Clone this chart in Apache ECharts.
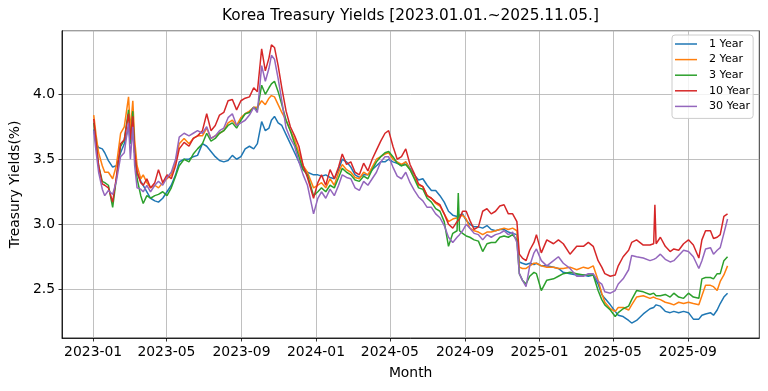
<!DOCTYPE html>
<html>
<head>
<meta charset="utf-8">
<script src="https://cdn.jsdelivr.net/npm/echarts@6/dist/echarts.min.js"></script>
<style>
html,body{margin:0;padding:0;background:#fff;}
#chart{width:768px;height:391px;}
</style>
</head>
<body>
<div id="chart"></div>
<script>
// ---- data ----
const seriesNames = ['1 Year', '2 Year', '3 Year', '10 Year', '30 Year'];
const xTickLabels = ['2023-01', '2023-05', '2023-09', '2024-01', '2024-05', '2024-09', '2025-01', '2025-05', '2025-09'];
const yTickLabels = ['2.5', '3.0', '3.5', '4.0'];

const dates = [
'2023-01-02','2023-01-06','2023-01-10','2023-01-16','2023-01-20','2023-01-26','2023-02-02','2023-02-08','2023-02-15','2023-02-21',
'2023-02-28','2023-03-03','2023-03-07','2023-03-10','2023-03-14','2023-03-20','2023-03-24','2023-03-30','2023-04-05','2023-04-12',
'2023-04-18','2023-04-25','2023-05-02','2023-05-09','2023-05-16','2023-05-22','2023-05-30','2023-06-07','2023-06-14','2023-06-21',
'2023-06-29','2023-07-06','2023-07-13','2023-07-20','2023-07-27','2023-08-03','2023-08-10','2023-08-17','2023-08-24','2023-08-31',
'2023-09-07','2023-09-14','2023-09-21','2023-09-27','2023-10-04','2023-10-10','2023-10-16','2023-10-20','2023-10-25','2023-10-31',
'2023-11-06','2023-11-13','2023-11-20','2023-11-27','2023-12-04','2023-12-11','2023-12-18','2023-12-28',
'2024-01-04','2024-01-10','2024-01-17','2024-01-24','2024-01-31','2024-02-07','2024-02-13','2024-02-20','2024-02-27','2024-03-05',
'2024-03-12','2024-03-19','2024-03-26','2024-04-02','2024-04-09','2024-04-16','2024-04-23','2024-04-29','2024-05-06','2024-05-13',
'2024-05-20','2024-05-27','2024-06-03','2024-06-10','2024-06-17','2024-06-24','2024-07-01','2024-07-08','2024-07-15','2024-07-22',
'2024-07-29','2024-08-05','2024-08-12','2024-08-19','2024-08-21','2024-08-23','2024-08-28','2024-09-03','2024-09-09','2024-09-16',
'2024-09-23','2024-09-30','2024-10-07','2024-10-14','2024-10-21','2024-10-28','2024-11-04','2024-11-11','2024-11-18','2024-11-25',
'2024-11-29','2024-12-04','2024-12-10','2024-12-16','2024-12-23','2024-12-27',
'2025-01-04','2025-01-13','2025-01-24','2025-02-01','2025-02-09','2025-02-20','2025-03-03','2025-03-14','2025-03-22','2025-03-30',
'2025-04-07','2025-04-13','2025-04-18','2025-04-27','2025-05-05','2025-05-10','2025-05-18','2025-05-27','2025-06-01','2025-06-09',
'2025-06-20','2025-07-01','2025-07-07','2025-07-09','2025-07-11','2025-07-18','2025-07-26','2025-08-03','2025-08-09','2025-08-17',
'2025-08-25','2025-09-02','2025-09-10','2025-09-19','2025-09-24','2025-09-30','2025-10-08','2025-10-13','2025-10-19','2025-10-24',
'2025-10-30','2025-11-05'
];

const y1 = [
3.73,3.62,3.59,3.58,3.55,3.49,3.44,3.45,3.55,3.62,
3.75,3.62,3.70,3.55,3.40,3.33,3.30,3.25,3.20,3.18,
3.17,3.20,3.25,3.30,3.38,3.48,3.50,3.50,3.52,3.53,
3.62,3.60,3.56,3.52,3.49,3.48,3.49,3.53,3.50,3.52,
3.58,3.60,3.58,3.62,3.79,3.72,3.74,3.80,3.83,3.78,
3.76,3.69,3.62,3.55,3.48,3.42,3.40,3.38,
3.38,3.37,3.38,3.36,3.35,3.42,3.50,3.48,3.44,3.38,
3.36,3.38,3.38,3.42,3.45,3.48,3.48,3.50,3.48,3.47,
3.45,3.48,3.43,3.38,3.34,3.35,3.30,3.26,3.26,3.22,
3.17,3.10,3.07,3.06,3.07,3.07,3.08,3.03,3.00,2.98,
2.98,2.97,2.99,2.96,2.95,2.96,2.96,2.94,2.93,2.92,
2.71,2.70,2.69,2.70,2.69,2.70,
2.68,2.68,2.67,2.66,2.63,2.62,2.61,2.61,2.60,2.61,
2.54,2.46,2.43,2.38,2.33,2.30,2.29,2.26,2.24,2.26,
2.31,2.35,2.36,2.37,2.38,2.37,2.33,2.32,2.33,2.32,
2.33,2.32,2.27,2.27,2.30,2.31,2.32,2.30,2.34,2.39,
2.44,2.47
];

const y2 = [
3.84,3.68,3.55,3.45,3.40,3.40,3.35,3.45,3.70,3.75,
3.98,3.72,3.95,3.65,3.45,3.35,3.38,3.32,3.28,3.30,
3.28,3.32,3.35,3.38,3.48,3.62,3.66,3.62,3.66,3.68,
3.68,3.74,3.66,3.68,3.70,3.72,3.78,3.80,3.76,3.82,
3.85,3.87,3.90,3.90,3.95,3.92,3.97,3.99,3.98,3.92,
3.86,3.80,3.72,3.65,3.55,3.45,3.40,3.28,
3.30,3.32,3.28,3.35,3.30,3.40,3.46,3.42,3.40,3.36,
3.35,3.40,3.38,3.44,3.50,3.52,3.54,3.55,3.50,3.48,
3.46,3.48,3.42,3.36,3.30,3.29,3.22,3.20,3.16,3.14,
3.08,3.02,3.04,3.05,3.06,3.06,3.07,3.04,2.97,2.95,
2.94,2.92,2.94,2.94,2.95,2.96,2.97,2.96,2.97,2.95,
2.67,2.66,2.66,2.68,2.70,2.70,
2.68,2.67,2.67,2.66,2.66,2.67,2.65,2.67,2.66,2.68,
2.57,2.47,2.40,2.35,2.33,2.36,2.36,2.34,2.38,2.44,
2.45,2.43,2.44,2.44,2.43,2.42,2.40,2.39,2.38,2.40,
2.39,2.40,2.39,2.38,2.45,2.53,2.53,2.52,2.49,2.56,
2.61,2.68
];

const y3 = [
3.78,3.62,3.45,3.33,3.32,3.30,3.13,3.35,3.60,3.65,
3.88,3.62,3.87,3.55,3.35,3.22,3.16,3.22,3.20,3.22,
3.23,3.25,3.22,3.28,3.37,3.45,3.50,3.48,3.54,3.58,
3.62,3.70,3.64,3.66,3.70,3.72,3.76,3.78,3.74,3.80,
3.85,3.86,3.90,3.88,4.07,4.00,4.05,4.08,4.10,4.02,
3.92,3.80,3.72,3.62,3.52,3.42,3.38,3.22,
3.25,3.28,3.25,3.30,3.28,3.36,3.43,3.40,3.38,3.34,
3.33,3.37,3.35,3.42,3.48,3.52,3.55,3.56,3.52,3.47,
3.45,3.46,3.42,3.35,3.28,3.27,3.20,3.17,3.12,3.10,
3.02,2.83,2.93,2.95,3.24,2.95,2.93,2.91,2.90,2.88,
2.87,2.79,2.85,2.86,2.86,2.90,2.91,2.90,2.92,2.88,
2.62,2.57,2.54,2.60,2.63,2.62,
2.49,2.57,2.58,2.60,2.62,2.63,2.62,2.61,2.61,2.61,
2.49,2.42,2.38,2.34,2.29,2.32,2.35,2.37,2.42,2.49,
2.48,2.46,2.47,2.47,2.45,2.45,2.46,2.44,2.47,2.44,
2.43,2.47,2.44,2.43,2.58,2.59,2.59,2.58,2.62,2.62,
2.72,2.75
];

const y10 = [
3.81,3.62,3.45,3.31,3.30,3.28,3.17,3.36,3.62,3.65,
3.85,3.65,3.83,3.55,3.40,3.32,3.30,3.35,3.28,3.32,
3.42,3.32,3.38,3.35,3.45,3.58,3.63,3.60,3.66,3.68,
3.72,3.85,3.72,3.76,3.84,3.86,3.95,3.96,3.88,3.95,
3.97,3.98,4.05,4.02,4.35,4.18,4.28,4.38,4.36,4.22,
4.05,3.87,3.75,3.68,3.60,3.45,3.36,3.20,
3.32,3.38,3.30,3.42,3.35,3.44,3.54,3.46,3.48,3.40,
3.38,3.47,3.41,3.50,3.57,3.64,3.70,3.72,3.60,3.50,
3.52,3.58,3.46,3.39,3.31,3.29,3.22,3.20,3.17,3.15,
3.08,3.00,2.97,3.02,3.03,3.04,3.10,3.10,3.03,2.96,
2.98,3.10,3.12,3.08,3.10,3.14,3.15,3.08,3.08,3.02,
2.77,2.74,2.72,2.80,2.86,2.92,
2.78,2.88,2.85,2.88,2.85,2.77,2.83,2.83,2.86,2.83,
2.72,2.67,2.62,2.60,2.61,2.68,2.75,2.80,2.86,2.88,
2.84,2.84,2.85,3.15,2.85,2.90,2.83,2.79,2.81,2.80,
2.85,2.88,2.84,2.74,2.88,2.95,2.95,2.89,2.90,2.92,
3.06,3.08
];

const y30 = [
3.72,3.55,3.40,3.27,3.22,3.26,3.23,3.33,3.52,3.55,
3.78,3.50,3.75,3.45,3.28,3.27,3.25,3.30,3.25,3.30,
3.33,3.30,3.36,3.40,3.50,3.67,3.70,3.68,3.70,3.72,
3.70,3.75,3.66,3.68,3.72,3.74,3.82,3.85,3.76,3.78,
3.80,3.84,3.90,3.86,4.22,4.10,4.20,4.30,4.27,4.12,
3.95,3.74,3.66,3.60,3.48,3.38,3.30,3.08,
3.20,3.25,3.20,3.27,3.22,3.30,3.38,3.36,3.35,3.28,
3.26,3.33,3.30,3.35,3.40,3.48,3.52,3.52,3.44,3.37,
3.35,3.40,3.32,3.26,3.21,3.18,3.13,3.13,3.08,3.05,
2.99,2.90,2.86,2.90,2.91,2.92,2.95,3.00,2.97,2.93,
2.92,2.88,2.92,2.90,2.92,2.93,2.95,2.92,2.94,2.86,
2.62,2.57,2.52,2.68,2.78,2.81,
2.72,2.68,2.72,2.75,2.70,2.66,2.60,2.60,2.62,2.62,
2.56,2.54,2.48,2.47,2.49,2.54,2.58,2.65,2.76,2.75,
2.74,2.72,2.73,2.74,2.74,2.77,2.73,2.71,2.72,2.76,
2.80,2.79,2.75,2.66,2.72,2.81,2.82,2.77,2.80,2.82,
2.93,3.04
];

const seriesValues = [y1, y2, y3, y10, y30];
const colors = ['#1f77b4', '#ff7f0e', '#2ca02c', '#d62728', '#9467bd'];

// ---- daily category axis (covers matplotlib's 5% margins) ----
function fmt(t) { return new Date(t).toISOString().slice(0, 10); }
const cats = [];
for (let t = Date.UTC(2022, 10, 11); t <= Date.UTC(2025, 11, 27); t += 86400000) cats.push(fmt(t));
const catIndex = {};
cats.forEach((c, i) => { catIndex[c] = i; });
function toDaily(vals) {
  const arr = new Array(cats.length).fill(null);
  dates.forEach((d, i) => { arr[catIndex[d]] = vals[i]; });
  return arr;
}
const tickSet = new Set(xTickLabels.map(s => s + '-01'));
const isTick = (i, v) => tickSet.has(v);
const ySet = new Set(yTickLabels);

const FONT = 'DejaVu Sans';
const chart = echarts.init(document.getElementById('chart'), null, { renderer: 'canvas' });
chart.setOption({
  animation: false,
  backgroundColor: '#fff',
  textStyle: { fontFamily: FONT },
  graphic: [{
    type: 'text', x: 410.5, y: 16,
    style: { text: 'Korea Treasury Yields [2023.01.01.~2025.11.05.]', font: '15.3px "DejaVu Sans"', fill: '#000', textAlign: 'center', textVerticalAlign: 'middle' }
  }],
  grid: { left: 61.7, right: 8.7, top: 30.7, bottom: 53, show: true, borderColor: '#000', borderWidth: 0.8, backgroundColor: 'transparent' },
  legend: {
    orient: 'vertical', left: 672, top: 35,
    icon: 'rect', itemWidth: 22, itemHeight: 1.5, itemGap: 3.6,
    padding: [3, 3, 6, 3],
    backgroundColor: 'rgba(255,255,255,0.8)', borderColor: '#cccccc', borderWidth: 1, borderRadius: 3,
    textStyle: { fontFamily: FONT, fontSize: 11.1, lineHeight: 12, color: '#000', padding: [0, 0, 0, 7] },
    data: seriesNames
  },
  xAxis: {
    type: 'category', data: cats, boundaryGap: false,
    name: 'Month', nameLocation: 'middle', nameGap: 28,
    nameTextStyle: { fontFamily: FONT, fontSize: 13.9, color: '#000' },
    axisLine: { lineStyle: { color: '#000', width: 0.8 } },
    axisTick: { show: true, interval: isTick, length: 3.5, lineStyle: { color: '#000', width: 0.8 } },
    axisLabel: { interval: isTick, formatter: v => v.slice(0, 7), fontFamily: FONT, fontSize: 13.9, color: '#000', margin: 7 },
    splitLine: { show: true, interval: isTick, lineStyle: { color: '#b0b0b0', width: 0.8 } }
  },
  yAxis: {
    type: 'value', min: 2.125, max: 4.489, scale: true,
    name: 'Treasury Yields(%)', nameLocation: 'middle', nameGap: 37,
    nameTextStyle: { fontFamily: FONT, fontSize: 13.9, color: '#000' },
    axisLine: { show: true, lineStyle: { color: '#000', width: 0.8 } },
    axisTick: { show: true, length: 3.5, lineStyle: { color: '#000', width: 0.8 } },
    axisLabel: { showMinLabel: false, showMaxLabel: false, formatter: v => { const s = v.toFixed(1); return ySet.has(s) && Math.abs(v - parseFloat(s)) < 1e-6 ? s : ''; }, fontFamily: FONT, fontSize: 13.9, color: '#000', margin: 7 },
    splitLine: { show: true, lineStyle: { color: '#b0b0b0', width: 0.8 } }
  },
  series: seriesNames.map((n, k) => ({
    name: n, type: 'line', data: toDaily(seriesValues[k]), connectNulls: true,
    symbol: 'none', showSymbol: false, color: colors[k],
    lineStyle: { color: colors[k], width: 1.5 }
  }))
});
</script>
</body>
</html>
